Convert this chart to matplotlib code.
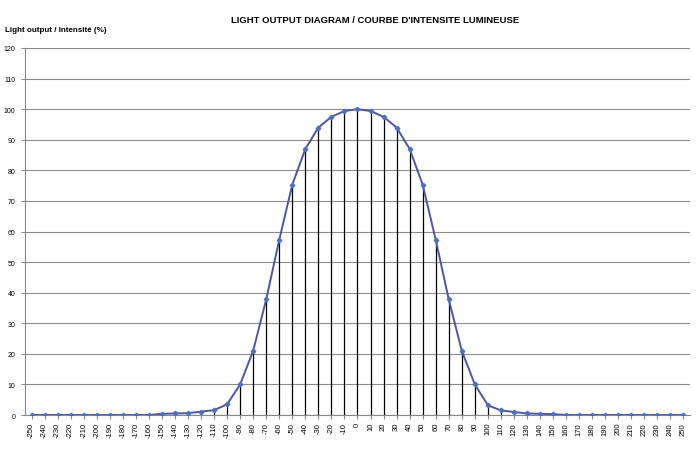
# light output diagram, excel-style line chart with drop lines
import numpy as np
import matplotlib.pyplot as plt

plt.rcParams['font.family'] = ['Liberation Sans', 'DejaVu Sans']

angles = list(range(-250, 251, 10))
intensity = [0, 0, 0, 0, 0, 0, 0, 0, 0, 0,
             0.4, 0.5, 0.6, 1.1, 1.6, 3.5, 10, 21, 37.8, 57.3, 75.3,
             87, 94, 97.5, 99.4, 100, 99.4, 97.5, 94, 87, 75.3,
             57.3, 37.8, 21, 10, 3.2, 1.5, 1.0, 0.5, 0.4, 0.3,
             0, 0, 0, 0, 0, 0, 0, 0, 0, 0]

ind = np.arange(len(angles)) + 0.5   # category centres, excel "between tick marks"

fig = plt.figure(figsize=(7, 4.64), dpi=100)
ax = fig.add_axes([0.0357, 0.1034, 0.95, 0.791])

ax.vlines(ind, 0, intensity, colors='black', linewidth=0.9, zorder=2)
ax.plot(ind, intensity, color='#50559c', linewidth=1.4, marker='D', markersize=2.3,
        markerfacecolor='#4a72c0', markeredgecolor='#4a72c0', zorder=3)

ax.set_xlim(0, len(angles))
ax.set_ylim(0, 120)
ax.set_yticks(np.arange(0, 121, 10))
ax.set_xticks(ind)
ax.set_xticklabels([str(a) for a in angles], rotation=90, fontsize=5.5)
ax.tick_params(axis='y', labelsize=5, length=3, color='#888888', pad=4)
ax.tick_params(axis='x', length=3, color='#888888', pad=2)
ax.yaxis.grid(True, color='#8c8c8c', linewidth=0.8)
ax.set_axisbelow(True)
for s in ('top', 'right'):
    ax.spines[s].set_visible(False)
ax.spines['left'].set_color('#888888')
ax.spines['bottom'].set_color('#888888')

fig.text(0.536, 0.956, "LIGHT OUTPUT DIAGRAM / COURBE D'INTENSITE LUMINEUSE",
         ha='center', va='center', fontsize=6.8, fontweight='bold')
fig.text(0.007, 0.935, 'Light output / Intensité (%)', ha='left', va='center',
         fontsize=5.8, fontweight='bold')

plt.savefig('out.png', dpi=100)
